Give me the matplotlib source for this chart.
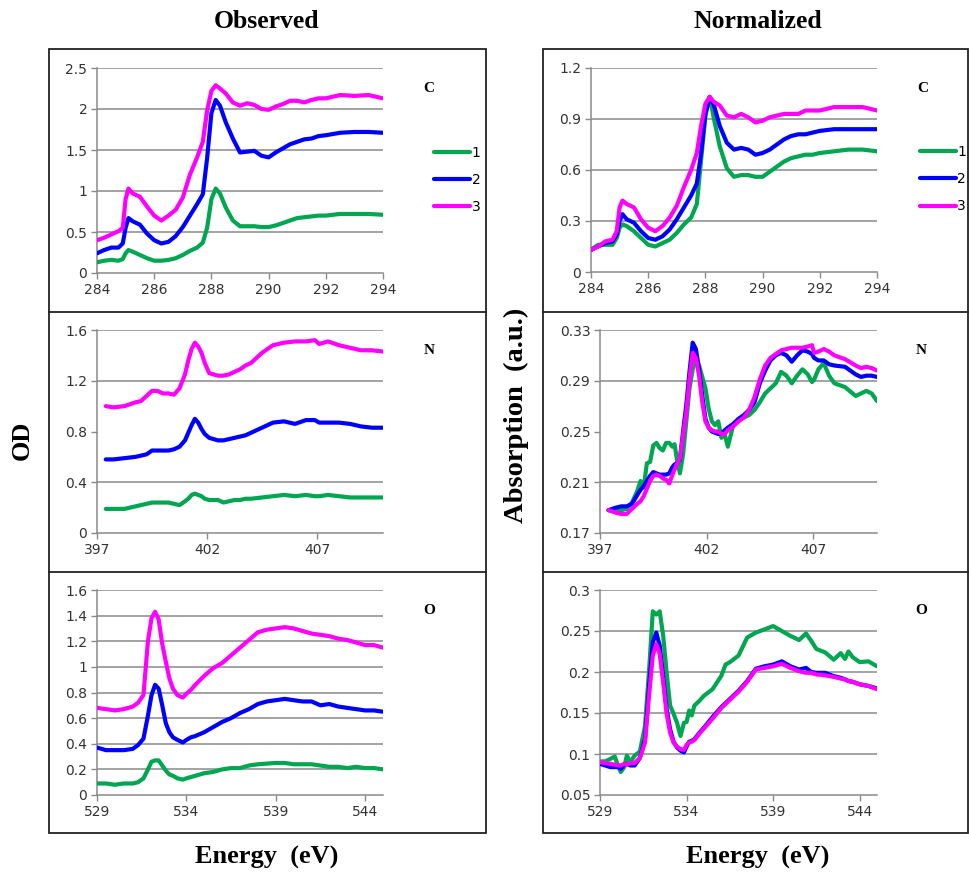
import matplotlib
matplotlib.use('Agg')
import matplotlib.pyplot as plt
from matplotlib.patches import Rectangle
from matplotlib.ticker import FuncFormatter, FixedLocator

plt.rcParams['font.family'] = 'DejaVu Sans'

W, H = 969, 875

sample_labels = ['1', '2', '3']
sample_colors = ['#00a650', '#0000ff', '#ff00ff']

# ---- C K-edge ----
c_energy = [284.0, 284.25, 284.5, 284.75, 284.9, 285.0, 285.1, 285.25, 285.5, 285.75,
            286.0, 286.25, 286.5, 286.75, 287.0, 287.25, 287.5, 287.7, 287.85, 288.0,
            288.15, 288.3, 288.5, 288.75, 289.0, 289.25, 289.5, 289.75, 290.0, 290.25,
            290.5, 290.75, 291.0, 291.25, 291.5, 291.75, 292.0, 292.5, 293.0, 293.5, 294.0]
c_obs_1 = [0.13, 0.15, 0.16, 0.15, 0.17, 0.24, 0.28, 0.26, 0.22, 0.18,
           0.15, 0.15, 0.16, 0.18, 0.22, 0.27, 0.31, 0.37, 0.55, 0.90,
           1.03, 0.97, 0.80, 0.64, 0.57, 0.57, 0.57, 0.56, 0.56, 0.58,
           0.61, 0.64, 0.67, 0.68, 0.69, 0.70, 0.70, 0.72, 0.72, 0.72, 0.71]
c_obs_2 = [0.24, 0.28, 0.31, 0.31, 0.36, 0.55, 0.67, 0.63, 0.59, 0.48,
           0.40, 0.36, 0.38, 0.45, 0.56, 0.70, 0.84, 0.96, 1.40, 1.95,
           2.11, 2.04, 1.84, 1.64, 1.47, 1.48, 1.49, 1.43, 1.41, 1.47,
           1.52, 1.57, 1.60, 1.63, 1.64, 1.67, 1.68, 1.71, 1.72, 1.72, 1.71]
c_obs_3 = [0.40, 0.43, 0.47, 0.51, 0.55, 0.90, 1.03, 0.97, 0.93, 0.81,
           0.70, 0.64, 0.70, 0.77, 0.92, 1.20, 1.41, 1.60, 1.98, 2.22,
           2.29, 2.25, 2.19, 2.08, 2.04, 2.07, 2.05, 2.00, 1.99, 2.03,
           2.06, 2.10, 2.10, 2.08, 2.11, 2.13, 2.13, 2.17, 2.16, 2.17, 2.13]
c_norm_1 = [0.13, 0.16, 0.16, 0.16, 0.20, 0.26, 0.28, 0.27, 0.24, 0.20,
            0.16, 0.15, 0.17, 0.19, 0.23, 0.28, 0.32, 0.40, 0.66, 0.92,
            1.03, 0.90, 0.74, 0.61, 0.56, 0.57, 0.57, 0.56, 0.56, 0.59,
            0.62, 0.65, 0.67, 0.68, 0.69, 0.69, 0.70, 0.71, 0.72, 0.72, 0.71]
c_norm_2 = [0.13, 0.15, 0.17, 0.18, 0.22, 0.30, 0.34, 0.31, 0.29, 0.24,
            0.20, 0.19, 0.21, 0.25, 0.31, 0.38, 0.45, 0.52, 0.70, 0.93,
            1.03, 0.98, 0.86, 0.76, 0.72, 0.73, 0.72, 0.69, 0.70, 0.72,
            0.75, 0.78, 0.80, 0.81, 0.81, 0.82, 0.83, 0.84, 0.84, 0.84, 0.84]
c_norm_3 = [0.13, 0.15, 0.18, 0.19, 0.24, 0.38, 0.42, 0.40, 0.38, 0.31,
            0.26, 0.24, 0.27, 0.32, 0.39, 0.50, 0.60, 0.70, 0.86, 0.99,
            1.03, 1.00, 0.98, 0.92, 0.91, 0.93, 0.91, 0.88, 0.89, 0.91,
            0.92, 0.93, 0.93, 0.93, 0.95, 0.95, 0.95, 0.97, 0.97, 0.97, 0.95]

# ---- N K-edge ----
n_energy = [397.4, 397.75, 398.25, 398.75, 399.0, 399.25, 399.5, 399.75, 400.0, 400.25,
            400.5, 400.75, 401.0, 401.15, 401.3, 401.45, 401.6, 401.75, 401.9, 402.1,
            402.3, 402.5, 402.75, 403.0, 403.25, 403.5, 403.75, 404.0, 404.5, 405.0,
            405.5, 406.0, 406.5, 406.9, 407.1, 407.5, 408.0, 408.5, 409.0, 409.5, 410.0]
n_obs_1 = [0.19, 0.19, 0.19, 0.21, 0.22, 0.23, 0.24, 0.24, 0.24, 0.24,
           0.23, 0.22, 0.25, 0.27, 0.30, 0.31, 0.30, 0.29, 0.27, 0.26,
           0.26, 0.26, 0.24, 0.25, 0.26, 0.26, 0.27, 0.27, 0.28, 0.29,
           0.30, 0.29, 0.30, 0.29, 0.29, 0.30, 0.29, 0.28, 0.28, 0.28, 0.28]
n_obs_2 = [0.58, 0.58, 0.59, 0.60, 0.61, 0.62, 0.65, 0.65, 0.65, 0.65,
           0.66, 0.68, 0.73, 0.79, 0.85, 0.90, 0.87, 0.82, 0.78, 0.75,
           0.74, 0.73, 0.73, 0.74, 0.75, 0.76, 0.77, 0.79, 0.83, 0.87,
           0.88, 0.86, 0.89, 0.89, 0.87, 0.87, 0.87, 0.86, 0.84, 0.83, 0.83]
n_obs_3 = [1.00, 0.99, 1.00, 1.03, 1.04, 1.08, 1.12, 1.12, 1.10, 1.10,
           1.09, 1.14, 1.25, 1.36, 1.45, 1.50, 1.47, 1.42, 1.34, 1.26,
           1.25, 1.24, 1.24, 1.25, 1.27, 1.29, 1.32, 1.34, 1.42, 1.48,
           1.50, 1.51, 1.51, 1.52, 1.49, 1.51, 1.48, 1.46, 1.44, 1.44, 1.43]

n_norm_energy = [397.4, 397.75, 398.0, 398.25, 398.5, 398.75, 398.9, 399.05, 399.2, 399.35,
                 399.5, 399.65, 399.8, 399.95, 400.1, 400.25, 400.4, 400.5, 400.6, 400.75,
                 400.9, 401.05, 401.2, 401.35, 401.5, 401.65, 401.8, 401.95, 402.1, 402.25,
                 402.4, 402.55, 402.7, 402.85, 403.0, 403.25, 403.5, 403.75, 404.0, 404.25,
                 404.5, 404.75, 405.0, 405.25, 405.5, 405.75, 406.0, 406.25, 406.5, 406.75,
                 406.95, 407.05, 407.25, 407.5, 407.75, 408.0, 408.5, 409.0, 409.25, 409.5,
                 409.75, 410.0]
n_norm_1 = [0.188, 0.187, 0.188, 0.189, 0.194, 0.203, 0.211, 0.206, 0.225, 0.226,
            0.239, 0.241, 0.237, 0.235, 0.241, 0.241, 0.238, 0.240, 0.229, 0.217,
            0.232, 0.258, 0.284, 0.299, 0.307, 0.302, 0.293, 0.284, 0.268, 0.258,
            0.255, 0.258, 0.245, 0.248, 0.238, 0.255, 0.259, 0.261, 0.263, 0.267,
            0.273, 0.280, 0.284, 0.288, 0.297, 0.294, 0.288, 0.294, 0.299, 0.295,
            0.289, 0.291, 0.299, 0.304, 0.294, 0.288, 0.285, 0.278, 0.280, 0.282,
            0.280, 0.274]
n_norm_2 = [0.188, 0.190, 0.191, 0.191, 0.193, 0.200, 0.204, 0.207, 0.211, 0.215,
            0.218, 0.217, 0.216, 0.216, 0.216, 0.217, 0.222, 0.224, 0.225, 0.228,
            0.250, 0.271, 0.297, 0.320, 0.315, 0.299, 0.278, 0.260, 0.253, 0.250,
            0.249, 0.248, 0.248, 0.251, 0.253, 0.256, 0.260, 0.263, 0.267, 0.273,
            0.288, 0.298, 0.306, 0.310, 0.312, 0.310, 0.305, 0.310, 0.314, 0.313,
            0.311, 0.308, 0.306, 0.306, 0.303, 0.302, 0.301, 0.295, 0.293, 0.294,
            0.294, 0.293]
n_norm_3 = [0.188, 0.186, 0.185, 0.185, 0.189, 0.193, 0.195, 0.199, 0.205, 0.211,
            0.215, 0.216, 0.215, 0.213, 0.212, 0.209, 0.216, 0.220, 0.224, 0.229,
            0.247, 0.265, 0.291, 0.312, 0.308, 0.294, 0.273, 0.258, 0.253, 0.251,
            0.250, 0.250, 0.248, 0.248, 0.251, 0.254, 0.258, 0.261, 0.267, 0.277,
            0.291, 0.302, 0.308, 0.311, 0.314, 0.315, 0.316, 0.316, 0.316, 0.317,
            0.318, 0.312, 0.313, 0.315, 0.313, 0.310, 0.307, 0.302, 0.300, 0.301,
            0.300, 0.298]

# ---- O K-edge ----
o_energy = [529.0, 529.5, 530.0, 530.5, 531.0, 531.3, 531.6, 531.85, 532.05, 532.25,
            532.45, 532.65, 532.85, 533.05, 533.25, 533.5, 533.8, 534.0, 534.25, 534.5,
            535.0, 535.5, 536.0, 536.5, 537.0, 537.5, 538.0, 538.5, 539.0, 539.5,
            540.0, 540.5, 541.0, 541.5, 542.0, 542.5, 543.0, 543.5, 544.0, 544.5, 545.0]
o_obs_1 = [0.09, 0.09, 0.08, 0.09, 0.09, 0.10, 0.13, 0.20, 0.26, 0.27,
           0.27, 0.23, 0.19, 0.16, 0.15, 0.13, 0.12, 0.13, 0.14, 0.15,
           0.17, 0.18, 0.20, 0.21, 0.21, 0.23, 0.24, 0.245, 0.25, 0.25,
           0.24, 0.24, 0.24, 0.23, 0.22, 0.22, 0.21, 0.22, 0.21, 0.21, 0.20]
o_obs_2 = [0.37, 0.35, 0.35, 0.35, 0.36, 0.39, 0.44, 0.62, 0.78, 0.86,
           0.83, 0.70, 0.56, 0.49, 0.45, 0.43, 0.41, 0.43, 0.45, 0.46,
           0.49, 0.53, 0.57, 0.60, 0.64, 0.67, 0.71, 0.73, 0.74, 0.75,
           0.74, 0.73, 0.73, 0.70, 0.71, 0.69, 0.68, 0.67, 0.66, 0.66, 0.65]
o_obs_3 = [0.68, 0.67, 0.66, 0.67, 0.69, 0.72, 0.78, 1.20, 1.38, 1.43,
           1.37, 1.18, 1.04, 0.91, 0.83, 0.78, 0.76, 0.79, 0.82, 0.86,
           0.93, 0.99, 1.03, 1.09, 1.15, 1.21, 1.27, 1.29, 1.30, 1.31,
           1.30, 1.28, 1.26, 1.25, 1.24, 1.22, 1.21, 1.19, 1.17, 1.17, 1.15]

o_norm_energy = [529.0, 529.3, 529.6, 529.85, 530.05, 530.2, 530.4, 530.55, 530.75, 531.0,
                 531.3, 531.6, 531.85, 532.05, 532.25, 532.45, 532.65, 532.85, 533.05, 533.25,
                 533.45, 533.65, 533.85, 534.0, 534.15, 534.3, 534.45, 534.75, 535.0, 535.5,
                 536.0, 536.25, 536.5, 537.0, 537.5, 538.0, 538.5, 539.0, 539.5, 540.0,
                 540.5, 540.9, 541.2, 541.5, 542.0, 542.5, 542.9, 543.15, 543.35, 543.6,
                 544.0, 544.5, 545.0]
o_norm_1 = [0.091, 0.091, 0.094, 0.097, 0.085, 0.078, 0.084, 0.098, 0.090, 0.098,
            0.103, 0.134, 0.207, 0.274, 0.270, 0.274, 0.244, 0.199, 0.159, 0.149,
            0.138, 0.122, 0.138, 0.139, 0.153, 0.147, 0.159, 0.165, 0.171, 0.179,
            0.195, 0.209, 0.212, 0.220, 0.242, 0.248, 0.252, 0.256, 0.250, 0.244,
            0.239, 0.247, 0.238, 0.228, 0.224, 0.215, 0.223, 0.216, 0.225, 0.218,
            0.212, 0.213, 0.207]
o_norm_2 = [0.088, 0.086, 0.084, 0.084, 0.084, 0.082, 0.087, 0.088, 0.086, 0.086,
            0.095, 0.118, 0.187, 0.236, 0.248, 0.232, 0.195, 0.155, 0.130, 0.115,
            0.108, 0.104, 0.102, 0.109, 0.115, 0.116, 0.118, 0.126, 0.132, 0.145,
            0.157, 0.162, 0.167, 0.177, 0.189, 0.204, 0.207, 0.209, 0.213, 0.207,
            0.203, 0.205, 0.200, 0.199, 0.199, 0.195, 0.193, 0.191, 0.189, 0.188,
            0.185, 0.183, 0.180]
o_norm_3 = [0.090, 0.089, 0.088, 0.087, 0.086, 0.086, 0.088, 0.087, 0.089, 0.089,
            0.095, 0.114, 0.175, 0.220, 0.234, 0.222, 0.187, 0.149, 0.126, 0.114,
            0.109, 0.106, 0.105, 0.111, 0.114, 0.115, 0.117, 0.125, 0.131, 0.143,
            0.156, 0.161, 0.166, 0.176, 0.188, 0.203, 0.205, 0.207, 0.210, 0.205,
            0.201, 0.199, 0.199, 0.197, 0.196, 0.194, 0.192, 0.191, 0.189, 0.188,
            0.185, 0.183, 0.179]

c_xticks = [284, 286, 288, 290, 292, 294]
n_xticks = [397, 402, 407]
o_xticks = [529, 534, 539, 544]

fig = plt.figure(figsize=(W / 100, H / 100), dpi=100)


def px_rect(x0, y0, x1, y1):
    return [x0 / W, 1 - y1 / H, (x1 - x0) / W, (y1 - y0) / H]


# background layer in pixel coordinates for frames and titles
bg = fig.add_axes([0, 0, 1, 1])
bg.set_xlim(0, W)
bg.set_ylim(H, 0)
bg.axis('off')
for x0, x1 in [(49, 486), (543, 968)]:
    bg.add_patch(Rectangle((x0, 49), x1 - x0, 784, fill=False, ec='#222222', lw=1.3))
    for yd in (312, 572):
        bg.plot([x0, x1], [yd, yd], color='#222222', lw=1.3)

serif = dict(family='Liberation Serif', weight='bold', color='black')
bg.text(267, 22, 'Observed', ha='center', va='center', fontsize=18.5, **serif)
bg.text(758, 22, 'Normalized', ha='center', va='center', fontsize=18.5, **serif)
bg.text(267, 857, 'Energy  (eV)', ha='center', va='center', fontsize=19, **serif)
bg.text(758, 857, 'Energy  (eV)', ha='center', va='center', fontsize=19, **serif)
bg.text(22, 440, 'OD', ha='center', va='center', rotation=90, fontsize=19, **serif)
bg.text(516, 415, 'Absorption  (a.u.)', ha='center', va='center', rotation=90,
        fontsize=20.5, **serif)


def draw_panel(rect, energy, curves, xlim, xticks, ylim, yticks, skip_grid,
               element, legend_x=None):
    ax = fig.add_axes(px_rect(*rect))
    lines = []
    for vals, col, lab in zip(curves, sample_colors, sample_labels):
        ln, = ax.plot(energy, vals, color=col, lw=3.0, label=lab,
                      solid_capstyle='round', solid_joinstyle='round', zorder=3)
        lines.append(ln)
    ax.set_xlim(*xlim)
    ax.set_ylim(*ylim)
    ax.xaxis.set_major_locator(FixedLocator(xticks))
    ax.yaxis.set_major_locator(FixedLocator(yticks))
    ax.yaxis.set_major_formatter(FuncFormatter(lambda v, p: '{:g}'.format(round(v, 3))))
    ax.xaxis.set_major_formatter(FuncFormatter(lambda v, p: '{:g}'.format(v)))
    for v in yticks[1:]:
        if v in skip_grid:
            continue
        ax.axhline(v, color='#8a8a8a', lw=1.1, zorder=1)
    for s in ('top', 'right'):
        ax.spines[s].set_visible(False)
    for s in ('left', 'bottom'):
        ax.spines[s].set_color('#8a8a8a')
        ax.spines[s].set_linewidth(1.1)
    ax.tick_params(direction='out', length=4, width=1, color='#8a8a8a',
                   labelsize=10, labelcolor='#333333', pad=3)
    ax.patch.set_alpha(0)
    ax.text(1.16, 0.9, element, transform=ax.transAxes, ha='center', va='center',
            fontsize=11, **serif)
    if legend_x is not None:
        ax.legend(handles=lines, loc='center left', bbox_to_anchor=(legend_x, 0.455),
                  frameon=False, fontsize=10, handlelength=2.6, handletextpad=0.1,
                  labelspacing=0.95, borderaxespad=0)
    return ax


draw_panel((97, 68, 383, 273), c_energy, [c_obs_1, c_obs_2, c_obs_3],
           (284, 294), c_xticks, (0, 2.5), [0, 0.5, 1, 1.5, 2, 2.5], [], 'C', 1.16)
draw_panel((591, 68, 877, 272), c_energy, [c_norm_1, c_norm_2, c_norm_3],
           (284, 294), c_xticks, (0, 1.2), [0, 0.3, 0.6, 0.9, 1.2], [], 'C', 1.13)
draw_panel((97, 330, 383, 533), n_energy, [n_obs_1, n_obs_2, n_obs_3],
           (397, 410), n_xticks, (0, 1.6), [0, 0.4, 0.8, 1.2, 1.6], [0.8], 'N')
draw_panel((600, 330, 877, 533), n_norm_energy, [n_norm_1, n_norm_2, n_norm_3],
           (397, 410), n_xticks, (0.17, 0.33), [0.17, 0.21, 0.25, 0.29, 0.33], [0.25], 'N')
draw_panel((97, 590, 383, 795), o_energy, [o_obs_1, o_obs_2, o_obs_3],
           (529, 545), o_xticks, (0, 1.6), [0, 0.2, 0.4, 0.6, 0.8, 1, 1.2, 1.4, 1.6], [], 'O')
draw_panel((600, 590, 877, 795), o_norm_energy, [o_norm_1, o_norm_2, o_norm_3],
           (529, 545), o_xticks, (0.05, 0.3), [0.05, 0.1, 0.15, 0.2, 0.25, 0.3], [], 'O')

fig.savefig('out.png', dpi=100)
